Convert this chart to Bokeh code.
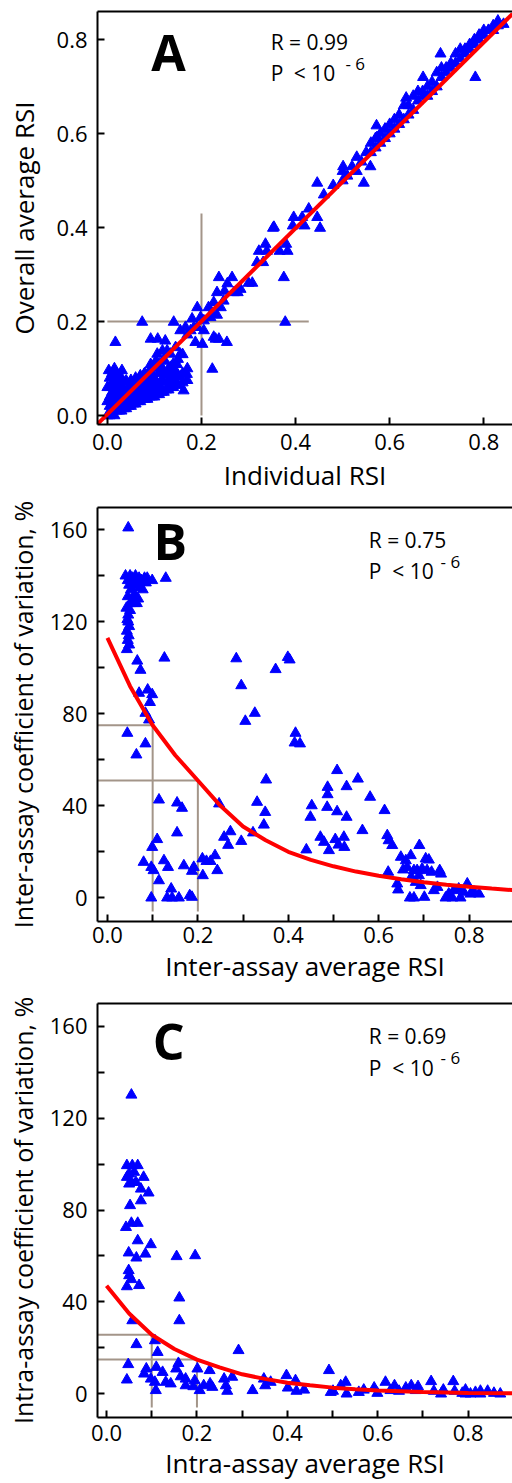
from bokeh.plotting import figure
from bokeh.layouts import column
from bokeh.models import FixedTicker, PrintfTickFormatter, LinearAxis, Label, Range1d
from bokeh.embed import file_html
from bokeh.resources import INLINE

FONT = "Open Sans"

# ---------------- Panel A data ----------------
a_low = [(0.0,0.0),(0.0,0.03),(0.0,0.06),
 (0.005,0.0),(0.005,0.02),(0.005,0.04),(0.005,0.06),(0.005,0.08),
 (0.01,0.01),(0.01,0.03),(0.01,0.05),(0.01,0.07),(0.01,0.09),
 (0.015,0.0),(0.015,0.02),(0.015,0.04),(0.015,0.06),(0.015,0.08),(0.015,0.10),
 (0.02,0.01),(0.02,0.03),(0.02,0.05),(0.02,0.07),(0.02,0.09),
 (0.025,0.01),(0.025,0.03),(0.025,0.05),(0.025,0.07),
 (0.03,0.01),(0.03,0.02),(0.03,0.04),(0.03,0.06),(0.03,0.08),
 (0.035,0.015),(0.035,0.035),(0.035,0.055),
 (0.04,0.015),(0.04,0.03),(0.04,0.05),(0.04,0.07),
 (0.045,0.02),(0.045,0.04),(0.045,0.06),
 (0.05,0.02),(0.05,0.035),(0.05,0.055),(0.05,0.075),
 (0.055,0.025),(0.055,0.045),(0.055,0.065),
 (0.06,0.025),(0.06,0.04),(0.06,0.06),(0.06,0.08),
 (0.065,0.03),(0.065,0.05),(0.065,0.07),
 (0.07,0.03),(0.07,0.045),(0.07,0.065),(0.07,0.085),
 (0.075,0.035),(0.075,0.055),(0.075,0.075),
 (0.08,0.035),(0.08,0.05),(0.08,0.07),(0.08,0.09),
 (0.085,0.035),(0.085,0.06),(0.085,0.08),
 (0.09,0.04),(0.09,0.055),(0.09,0.075),(0.09,0.095),
 (0.095,0.04),(0.095,0.065),(0.095,0.085),
 (0.10,0.04),(0.10,0.06),(0.10,0.08),(0.10,0.10),
 (0.105,0.045),(0.105,0.07),
 (0.11,0.045),(0.11,0.065),(0.11,0.09),(0.11,0.11),
 (0.115,0.05),(0.115,0.075),
 (0.12,0.05),(0.12,0.07),(0.12,0.095),(0.12,0.12),
 (0.125,0.055),(0.125,0.085),
 (0.13,0.055),(0.13,0.075),(0.13,0.10),
 (0.135,0.06),(0.135,0.09),
 (0.14,0.06),(0.14,0.08),(0.14,0.11),
 (0.145,0.065),(0.145,0.095),
 (0.15,0.065),(0.15,0.085),(0.15,0.12),
 (0.16,0.07),(0.16,0.09),(0.16,0.13),
 (0.17,0.075),(0.17,0.10)]
a_lowmid = [(0.074,0.199),(0.141,0.199),(0.017,0.156),(0.092,0.163),(0.107,0.163),(0.123,0.159),
 (0.155,0.181),(0.170,0.172),(0.177,0.181),(0.191,0.188),(0.187,0.156),(0.202,0.152),
 (0.230,0.163),(0.237,0.163),(0.254,0.156),(0.223,0.099),(0.162,0.053),(0.169,0.088),
 (0.148,0.109),(0.134,0.103),(0.113,0.096),(0.155,0.082),(0.141,0.067),(0.120,0.116),
 (0.103,0.116),(0.092,0.109),(0.078,0.088),(0.127,0.138),(0.145,0.145),(0.106,0.131),
 (0.155,0.131),(0.134,0.131),(0.117,0.138),(0.031,0.096),(0.014,0.093),(0.003,0.096),(0.040,0.074)]
a_mid = [(0.396,0.422),(0.414,0.422),(0.428,0.440),(0.446,0.422),(0.452,0.399),(0.419,0.404),
 (0.394,0.404),(0.352,0.399),(0.354,0.401),(0.336,0.365),(0.322,0.350),(0.339,0.350),(0.366,0.350),
 (0.383,0.350),(0.380,0.365),(0.318,0.326),(0.331,0.326),(0.375,0.294),(0.300,0.282),
 (0.308,0.282),(0.265,0.294),(0.237,0.294),(0.255,0.281),(0.269,0.262),(0.283,0.269),
 (0.233,0.262),(0.249,0.265),(0.277,0.262),(0.191,0.230),(0.215,0.230),(0.226,0.241),
 (0.241,0.230),(0.247,0.244),(0.222,0.219),(0.233,0.214),(0.198,0.209),(0.180,0.206),
 (0.205,0.202),(0.219,0.209),(0.166,0.188),(0.184,0.188),(0.205,0.181),(0.226,0.167),(0.378,0.199)]
a_high = [(0.708,0.770),(0.782,0.720),(0.671,0.720),(0.635,0.676),(0.572,0.617),(0.573,0.592),
 (0.446,0.495),(0.545,0.495),(0.559,0.530),(0.501,0.530),
 (0.46,0.47),(0.48,0.49),(0.50,0.52),(0.50,0.50),(0.51,0.51),(0.52,0.53),(0.53,0.52),(0.53,0.55),
 (0.54,0.54),(0.55,0.56),(0.56,0.58),(0.56,0.56),(0.57,0.59),(0.57,0.57),(0.58,0.60),(0.58,0.58),
 (0.59,0.61),(0.59,0.59),(0.60,0.62),(0.60,0.60),(0.61,0.63),(0.61,0.61),(0.62,0.64),(0.62,0.62),
 (0.63,0.66),(0.63,0.63),(0.64,0.66),(0.64,0.64),(0.65,0.68),(0.65,0.65),(0.66,0.69),(0.66,0.67),
 (0.67,0.69),(0.67,0.68),(0.68,0.70),(0.68,0.68),(0.69,0.71),(0.69,0.69),(0.70,0.73),(0.70,0.70),
 (0.71,0.74),(0.71,0.72),(0.72,0.74),(0.72,0.73),(0.73,0.75),(0.73,0.74),(0.74,0.77),(0.74,0.75),
 (0.75,0.78),(0.75,0.76),(0.76,0.78),(0.76,0.77),(0.77,0.79),(0.77,0.78),(0.78,0.80),(0.78,0.79),
 (0.79,0.81),(0.79,0.80),(0.80,0.82),(0.80,0.81),(0.81,0.82),(0.81,0.82),(0.82,0.83),(0.82,0.82),
 (0.83,0.84),(0.83,0.83),(0.842,0.833)]
a_fit_x = [-0.022, 0.861]
a_fit_y = [-0.019, 0.855]
a_guide_x = [[0.2, 0.2], [0.0, 0.428]]
a_guide_y = [[0.0, 0.43], [0.2, 0.2]]

# ---------------- Panel B data ----------------
b_pts = [(0.046,160.9),
 (0.040,140),(0.045,138),(0.048,136),(0.050,140),(0.052,134),(0.055,139),(0.058,137),(0.060,132),
 (0.062,140),(0.065,136),(0.068,130),(0.070,139),(0.072,135),(0.075,138),(0.078,134),(0.082,139),
 (0.085,137),(0.088,139),(0.045,131),(0.050,128),(0.055,129),(0.060,128),(0.065,128),
 (0.099,138),(0.129,139),
 (0.042,126),(0.046,123),(0.044,121),(0.048,118),(0.043,116),(0.047,114),(0.045,112),(0.048,110),
 (0.043,108),(0.050,125),(0.046,120),
 (0.066,103),(0.073,99),(0.089,90.4),(0.099,88.4),(0.094,85),(0.070,89),(0.084,80.3),(0.092,77.4),
 (0.044,71.6),(0.084,67),(0.064,62.2),(0.126,104.3),
 (0.285,104),(0.296,92.3),(0.305,76.8),(0.326,80.3),(0.372,99.3),(0.399,104.6),(0.403,103.5),
 (0.416,71.6),(0.414,67.4),(0.426,67),(0.351,51.3),(0.331,41.6),(0.349,37.2),(0.346,31.7),
 (0.322,28.3),(0.296,24.6),(0.272,28.8),(0.258,26.4),(0.267,22.9),(0.247,40.9),(0.243,11.9),
 (0.238,18.4),(0.228,15.9),(0.219,15.9),(0.210,17),(0.211,9.7),
 (0.114,42.6),(0.154,41.3),(0.165,39),(0.154,28.3),(0.110,25.4),(0.099,22),(0.080,15.5),
 (0.097,13.3),(0.102,11.9),(0.114,7.5),(0.125,16.2),(0.134,13.3),(0.141,3.9),(0.132,0),
 (0.143,0),(0.158,0),(0.097,0),(0.182,1),(0.187,11.6),(0.191,13.3),(0.169,14),(0.187,0.3),
 (0.508,55.4),(0.554,51.7),(0.581,43.8),(0.487,48.1),(0.487,44.9),(0.452,40.1),(0.449,35.1),
 (0.486,39.4),(0.529,48.4),(0.508,37.5),(0.529,35.1),(0.564,29.3),(0.471,26.4),(0.479,24.2),
 (0.490,20.6),(0.504,25.4),(0.511,23),(0.523,26.4),(0.524,22),(0.440,20.9),(0.613,38),
 (0.619,27.1),(0.622,24.9),(0.630,22.8),(0.621,11.2),(0.641,6.1),(0.643,3.5),
 (0.649,17.7),(0.660,16.2),(0.671,18.4),(0.663,13.3),(0.654,12.2),(0.678,11.9),(0.690,22.8),
 (0.704,17),(0.711,16.5),(0.696,12.6),(0.707,11.9),(0.717,11.2),(0.689,9.7),(0.735,11.9),
 (0.738,10.4),(0.722,3.2),(0.669,0),(0.678,0),(0.701,0.3),(0.748,0),(0.755,1.7),(0.766,3.2),
 (0.777,3.9),(0.788,2.5),(0.796,6.1),(0.803,1.7),(0.811,2.5),(0.822,1.7),(0.781,0),(0.763,0),
 (0.685,11.9),(0.672,9),(0.682,6.8),(0.693,5.4),(0.730,4.6)]
b_fit_x = [0.0,0.05,0.1,0.15,0.2,0.25,0.3,0.35,0.4,0.45,0.5,0.55,0.6,0.65,0.7,0.75,0.8,0.85,0.9]
b_fit_y = [113,92,75,62,51,40,31,25,20,16.5,13.7,11.4,9.6,8.1,6.8,5.7,4.8,4.0,3.3]
b_guide_x = [[0.1, 0.1], [-0.022, 0.1], [0.2, 0.2], [-0.022, 0.2]]
b_guide_y = [[-6, 75], [75, 75], [-6, 51], [51, 51]]

# ---------------- Panel C data ----------------
c_pts = [(0.055,130.1),
 (0.045,99.4),(0.057,99.4),(0.069,99.4),(0.050,95.8),(0.061,96.5),(0.045,94.3),(0.055,92.1),
 (0.065,92.1),(0.050,91.4),(0.082,94.3),(0.076,89.2),(0.093,87.5),(0.076,84.1),(0.052,82),
 (0.043,72.5),(0.055,74.3),(0.069,74.3),(0.069,66.7),(0.098,65),(0.049,61.4),(0.066,59.2),
 (0.086,60.9),(0.155,59.8),(0.196,60.2),(0.049,53.7),(0.050,51.5),(0.055,49.8),(0.045,46.7),
 (0.072,47.2),(0.161,41.8),(0.161,31.9),(0.057,31.9),(0.066,21.5),(0.107,23.2),(0.113,18.1),
 (0.292,18.9),(0.048,12.8),(0.045,6.1),
 (0.088,10.9),(0.083,8.7),(0.098,6.5),(0.107,5.1),(0.109,1.5),(0.110,11.6),(0.124,9.4),
 (0.131,5.1),(0.142,4.4),(0.154,10.9),(0.159,13.3),(0.164,7.5),(0.175,6.5),(0.175,3.6),
 (0.192,3.2),(0.195,5.8),(0.201,10.9),(0.206,1.5),(0.215,3.6),(0.228,10.2),(0.229,4.4),
 (0.234,2.9),(0.260,6.5),(0.264,3.6),(0.267,1.2),(0.278,7.3),(0.323,1.5),(0.348,6.5),
 (0.351,3.6),(0.363,5.1),(0.398,8),(0.401,2.6),(0.418,5.8),(0.420,1.2),(0.437,1.7),
 (0.492,10.2),(0.496,0.7),(0.501,1.2),(0.518,3.6),(0.529,5.1),(0.531,0),
 (0.558,0.7),(0.569,1.7),(0.592,2.6),(0.599,0.3),(0.617,5.1),(0.628,1.5),(0.637,3.6),
 (0.647,1.2),(0.662,2.6),(0.674,3.6),(0.684,1.5),(0.689,3.2),(0.718,5.4),(0.724,1.2),
 (0.745,1.7),(0.767,5.4),(0.770,1.2),(0.787,0.3),(0.794,1.7),(0.805,0),(0.816,0.7),
 (0.827,0),(0.843,1.2),(0.857,0.3),(0.871,0),(0.794,0),(0.740,0),(0.827,1.2)]
c_fit_x = [0.0,0.05,0.1,0.15,0.2,0.25,0.3,0.35,0.4,0.45,0.5,0.55,0.6,0.7,0.8,0.9]
c_fit_y = [47,35,25.7,19.5,14.9,11.5,8.5,6.5,4.8,3.7,2.7,2.0,1.5,0.8,0.4,0.2]
c_guide_x = [[0.1, 0.1], [-0.02, 0.1], [0.2, 0.2], [-0.02, 0.2]]
c_guide_y = [[-6, 25.7], [25.7, 25.7], [-6, 14.9], [14.9, 14.9]]

a_x = [p[0] for p in a_low + a_lowmid + a_mid + a_high]
a_y = [p[1] for p in a_low + a_lowmid + a_mid + a_high]
b_x = [p[0] for p in b_pts]; b_y = [p[1] for p in b_pts]
c_x = [p[0] for p in c_pts]; c_y = [p[1] for p in c_pts]


def make_fig(h, top, bottom, xr, yr, xticks, xminor, yticks, yminor, yfmt, xlabel, ylabel,
             x_lstand, x_astand, y_astand, ylabel_size):
    p = figure(width=512, height=h, x_range=Range1d(*xr), y_range=Range1d(*yr),
               output_backend="svg", toolbar_location=None,
               min_border_left=97, min_border_right=0, min_border_top=top, min_border_bottom=bottom)
    p.outline_line_color = None
    p.xgrid.visible = False
    p.ygrid.visible = False
    axes = [(p.xaxis[0], xticks, xminor, "%.1f", xlabel, x_lstand, x_astand, "26px"),
            (p.yaxis[0], yticks, yminor, yfmt, ylabel, 10, y_astand, ylabel_size)]
    for ax, ticks, minor, fmt, label, lstand, astand, lsize in axes:
        ax.ticker = FixedTicker(ticks=ticks, minor_ticks=minor)
        ax.formatter = PrintfTickFormatter(format=fmt)
        ax.axis_line_width = 2
        ax.axis_line_color = "black"
        ax.major_tick_in = 7
        ax.major_tick_out = 0
        ax.major_tick_line_width = 2
        ax.minor_tick_in = 7
        ax.minor_tick_out = 0
        ax.minor_tick_line_width = 2
        ax.major_label_text_font = FONT
        ax.major_label_text_font_size = "22px"
        ax.major_label_text_color = "black"
        ax.major_label_standoff = lstand
        ax.axis_label = label
        ax.axis_label_text_font = FONT
        ax.axis_label_text_font_size = lsize
        ax.axis_label_text_font_style = "normal"
        ax.axis_label_text_color = "black"
        ax.axis_label_standoff = astand
    top_ax = LinearAxis(ticker=FixedTicker(ticks=[]), major_label_text_font_size="0px",
                        major_tick_line_color=None, minor_tick_line_color=None,
                        axis_line_width=2, axis_line_color="black",
                        major_label_standoff=0, major_tick_out=0, major_tick_in=0)
    p.add_layout(top_ax, "above")
    return p


def add_texts(p, letter, lx, ly, rtext, rx, ry, py, px2, sx, sy):
    common = dict(text_font=FONT, text_color="black", text_baseline="middle")
    p.add_layout(Label(x=lx, y=ly, text=letter, text_font_size="50px", text_font_style="bold", **common))
    p.add_layout(Label(x=rx, y=ry, text=rtext, text_font_size="21px", **common))
    p.add_layout(Label(x=rx, y=py, text="P", text_font_size="21px", **common))
    p.add_layout(Label(x=px2, y=py, text="< 10", text_font_size="21px", **common))
    p.add_layout(Label(x=sx, y=sy, text="- 6", text_font_size="17px", **common))


GRAY = "#a39589"

# Panel A (page rows 0-496)
pa = make_fig(496, 11, 72, (-0.021, 0.861), (-0.019, 0.86),
              [0.0, 0.2, 0.4, 0.6, 0.8], [], [0.0, 0.2, 0.4, 0.6, 0.8], [], "%.1f",
              "Individual RSI", "Overall average RSI", 9, 4, 12, "26px")
pa.multi_line(a_guide_x, a_guide_y, line_color=GRAY, line_width=2)
pa.scatter(a_x, a_y, marker="triangle", size=11, fill_color="blue", line_color="blue")
pa.line(a_fit_x, a_fit_y, line_color="red", line_width=4)
add_texts(pa, "A", 0.093, 0.774, "R = 0.99", 0.347, 0.795, 0.729, 0.396, 0.506, 0.749)

# Panel B (page rows 496-986)
pb = make_fig(490, 11, 65, (-0.022, 0.896), (-10.3, 169.7),
              [0.0, 0.2, 0.4, 0.6, 0.8], [0.1, 0.3, 0.5, 0.7], [0, 40, 80, 120, 160], [20, 60, 100, 140], "%d",
              "Inter-assay average RSI", "Inter-assay coefficient of variation, %", 5, 2, 7, "25px")
pb.multi_line(b_guide_x, b_guide_y, line_color=GRAY, line_width=2)
pb.scatter(b_x, b_y, marker="triangle", size=11, fill_color="blue", line_color="blue")
pb.line(b_fit_x, b_fit_y, line_color="red", line_width=4)
add_texts(pb, "B", 0.102, 155.0, "R = 0.75", 0.578, 155.7, 142.1, 0.630, 0.737, 146.3)

# Panel C (page rows 986-1483)
pc = make_fig(497, 17, 66, (-0.02, 0.898), (-10.3, 169.9),
              [0.0, 0.2, 0.4, 0.6, 0.8], [0.1, 0.3, 0.5, 0.7], [0, 40, 80, 120, 160], [20, 60, 100, 140], "%d",
              "Intra-assay average RSI", "Intra-assay coefficient of variation, %", 7, 1, 7, "25px")
pc.multi_line(c_guide_x, c_guide_y, line_color=GRAY, line_width=2)
pc.scatter(c_x, c_y, marker="triangle", size=11, fill_color="blue", line_color="blue")
pc.line(c_fit_x, c_fit_y, line_color="red", line_width=4)
add_texts(pc, "C", 0.102, 153.4, "R = 0.69", 0.580, 155.8, 142.0, 0.632, 0.739, 146.5)

layout = column(pa, pb, pc, spacing=0)
open("out.html", "w").write(file_html(layout, INLINE))
